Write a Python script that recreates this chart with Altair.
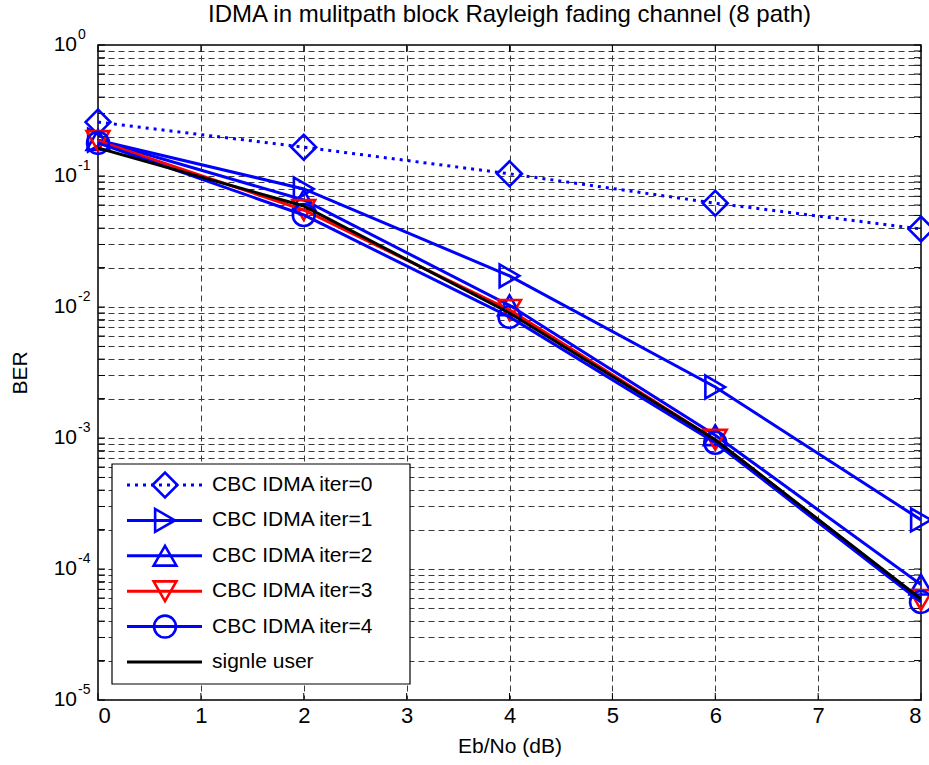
import altair as alt
import pandas as pd

# Eb/No points (dB) and simulated BER for each receiver setting
ebno = [0, 2, 4, 6, 8]
ber_iter0 = [0.258, 0.166, 0.104, 0.062, 0.0394]
ber_iter1 = [0.188, 0.0796, 0.0173, 0.00245, 0.000237]
ber_iter2 = [0.188, 0.0656, 0.0103, 0.00105, 7.6e-5]
ber_iter3 = [0.185, 0.055, 0.0095, 0.00097, 5.8e-5]
ber_iter4 = [0.179, 0.0504, 0.0084, 0.00092, 5.6e-5]
ber_single = [0.164, 0.059, 0.0090, 0.00097, 5.9e-5]

series_names = ["CBC IDMA iter=0", "CBC IDMA iter=1", "CBC IDMA iter=2",
                "CBC IDMA iter=3", "CBC IDMA iter=4", "signle user"]
series_values = [ber_iter0, ber_iter1, ber_iter2, ber_iter3, ber_iter4, ber_single]
series_colors = ["#0000ff", "#0000ff", "#0000ff", "#ff0000", "#0000ff", "#000000"]
series_shapes = ["diamond", "triangle-right", "triangle-up", "triangle-down", "circle", None]
series_dashed = [True, False, False, False, False, False]
marker_sizes = [620, 520, 520, 520, 480, 0]

x_ticks = list(range(0, 9))
decades = [0, -1, -2, -3, -4, -5]
grid_values = [m * 10.0 ** k for k in range(-5, 0) for m in range(1, 10)] + [1.0]

FONT = "Liberation Sans"
W, H = 823, 655
TICK = 7

x_scale = alt.Scale(domain=[0, 8], nice=False, zero=False)
y_scale = alt.Scale(type="log", domain=[1e-5, 1], nice=False)

x_axis = alt.Axis(values=x_ticks, grid=True, domain=False, ticks=False,
                  labelPadding=5, title="Eb/No (dB)",
                  titleBaseline="middle", titleY=46)
y_axis = alt.Axis(values=grid_values, grid=True, domain=False, ticks=False, labels=False,
                  title="BER", titleX=-78, titleY=H / 2, titleBaseline="middle",
                  titleAngle=270, titleAlign="center")


def xy(xfield, yfield):
    return dict(x=alt.X(xfield, scale=x_scale, axis=x_axis),
                y=alt.Y(yfield, scale=y_scale, axis=y_axis))


layers = []

# inward tick marks on all four sides of the box
ytick_df = pd.DataFrame({"v": grid_values, "x0": [0] * len(grid_values)})
xtick_df = pd.DataFrame({"t": x_ticks, "v": [1.0] * len(x_ticks)})
for xa, xb in [(0, TICK), (W - TICK, W)]:
    layers.append(alt.Chart(ytick_df).mark_rule(color="black", strokeWidth=1).encode(
        y=alt.Y("v:Q", scale=y_scale, axis=y_axis),
        x=alt.value(xa), x2=alt.value(xb)))
for ya, yb in [(0, TICK), (H - TICK, H)]:
    layers.append(alt.Chart(xtick_df).mark_rule(color="black", strokeWidth=1).encode(
        x=alt.X("t:Q", scale=x_scale, axis=x_axis),
        y=alt.value(ya), y2=alt.value(yb)))

for name, vals, col, shp, dashed, msize in zip(series_names, series_values, series_colors,
                                                 series_shapes, series_dashed, marker_sizes):
    df = pd.DataFrame({"ebno": ebno, "ber": vals, "series": name})
    base = alt.Chart(df)
    line_kwargs = dict(color=col, strokeWidth=3, clip=True)
    if dashed:
        line_kwargs["strokeDash"] = [3, 5]
        line_kwargs["strokeCap"] = "butt"
    layers.append(base.mark_line(**line_kwargs).encode(**xy("ebno:Q", "ber:Q")))
    if shp:
        layers.append(base.mark_point(shape=shp, filled=False, color=col, strokeWidth=2.6,
                                      size=msize, opacity=1).encode(**xy("ebno:Q", "ber:Q")))

# y tick labels as 10 with a raised exponent
dec_df = pd.DataFrame({"v": [10.0 ** d for d in decades], "e": [str(d) for d in decades],
                       "x0": [0] * len(decades)})
lab_base = alt.Chart(dec_df)
lab_ten = lab_base.mark_text(align="right", baseline="middle", font=FONT, fontSize=21,
                             color="black", dx=-21).encode(
    text=alt.value("10"), **xy("x0:Q", "v:Q"))
lab_exp = lab_base.mark_text(align="left", baseline="middle", font=FONT, fontSize=14,
                             color="black", dx=-20, dy=-10).encode(
    text="e:N", **xy("x0:Q", "v:Q"))
layers += [lab_ten, lab_exp]

# legend box inside the axes, rows stacked from the top of the box
LEG_X0, LEG_X1, LEG_Y0, LEG_Y1 = 14, 312, 419, 639
ROW0, ROW_STEP = 440, 35.4
layers.append(alt.Chart(pd.DataFrame({"a": [0]})).mark_rect(
    fill="white", stroke="black", strokeWidth=1.2).encode(
    x=alt.value(LEG_X0), x2=alt.value(LEG_X1), y=alt.value(LEG_Y0), y2=alt.value(LEG_Y1)))
one = pd.DataFrame({"a": [0]})
for i, (name, col, shp, dashed, msize) in enumerate(zip(series_names, series_colors,
                                                          series_shapes, series_dashed,
                                                          marker_sizes)):
    ry = ROW0 + i * ROW_STEP
    rule_kwargs = dict(color=col, strokeWidth=3)
    if dashed:
        rule_kwargs["strokeDash"] = [3, 5]
        rule_kwargs["strokeCap"] = "butt"
    layers.append(alt.Chart(one).mark_rule(**rule_kwargs).encode(
        x=alt.value(29), x2=alt.value(104), y=alt.value(ry)))
    if shp:
        layers.append(alt.Chart(one).mark_point(shape=shp, filled=False, color=col,
                                                strokeWidth=2.6, size=msize, opacity=1).encode(
            x=alt.value(67), y=alt.value(ry)))
    layers.append(alt.Chart(one).mark_text(align="left", baseline="middle", font=FONT,
                                           fontSize=21, color="black", text=name).encode(
        x=alt.value(114), y=alt.value(ry)))

chart = alt.layer(*layers).properties(
    width=W, height=H,
    title=alt.TitleParams("IDMA in mulitpath block Rayleigh fading channel (8 path)",
                          font=FONT, fontSize=24, fontWeight="normal", color="black",
                          anchor="middle", offset=1),
    autosize=alt.AutoSizeParams(type="none"),
    padding={"left": 98, "top": 45, "right": 8, "bottom": 65},
    background="white",
).configure_view(
    stroke="black", strokeWidth=1.5
).configure_axis(
    gridDash=[6, 4], gridColor="#3a3a3a", gridWidth=1, gridOpacity=1,
    labelFont=FONT, labelFontSize=22, labelColor="black",
    titleFont=FONT, titleFontSize=21, titleFontWeight="normal", titleColor="black",
)

chart.save("out.html", embed_options={"renderer": "svg", "actions": False})
